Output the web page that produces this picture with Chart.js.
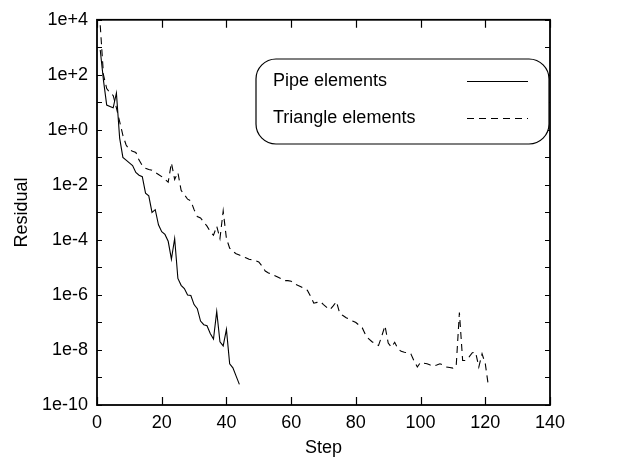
<!DOCTYPE html>
<html lang="en">
<head>
<meta charset="UTF-8" />
<title>Residual vs Step</title>
<script src="https://cdn.jsdelivr.net/npm/chart.js"></script>
<style>
  html, body { margin: 0; padding: 0; background: #fff; }
  #wrap { position: relative; width: 640px; height: 462px; }
</style>
</head>
<body>
<div id="wrap"><canvas id="myChart"></canvas></div>

<script>
// values, stored as log10(residual)
const pipeFirstStep = 1;
const pipeLog10 = [
    2.9, 1.8, 0.9, 0.85, 0.8, 1.34, -0.3, -1.0, -1.1, -1.2,
    -1.3, -1.55, -1.65, -1.7, -2.3, -2.4, -3.0, -2.9, -3.45, -3.7,
    -3.8, -4.05, -4.7, -3.95, -5.4, -5.65, -5.77, -6.0, -6.02, -6.35,
    -6.5, -6.95, -7.08, -7.12, -7.4, -7.6, -6.6, -7.7, -7.85, -7.25,
    -8.5, -8.65, -8.95, -9.25
];

const triFirstStep = 1;
const triLog10 = [
    3.8, 2.0, 1.5, 1.35, 1.25, 0.8, 0.3, -0.2, -0.55, -0.72,
    -0.78, -0.82, -1.1, -1.3, -1.4, -1.44, -1.47, -1.55, -1.62, -1.7,
    -1.8, -1.9, -1.2, -1.8, -1.55, -2.2, -2.35, -2.52, -2.58, -2.9,
    -3.15, -3.2, -3.35, -3.5, -3.7, -3.83, -3.5, -3.95, -2.95, -3.95,
    -4.3, -4.42, -4.5, -4.55, -4.6, -4.65, -4.7, -4.73, -4.76, -4.8,
    -4.95, -5.13, -5.2, -5.24, -5.3, -5.36, -5.42, -5.48, -5.48, -5.5,
    -5.6, -5.65, -5.7, -5.77, -5.83, -6.05, -6.3, -6.27, -6.24, -6.35,
    -6.45, -6.54, -6.4, -6.24, -6.66, -6.75, -6.83, -6.88, -6.95, -7.0,
    -7.1, -7.2, -7.45, -7.6, -7.7, -7.78, -7.84, -7.5, -7.12, -7.75,
    -7.9, -7.72, -7.95, -8.05, -8.08, -8.1, -8.14, -8.4, -8.62, -8.45,
    -8.48, -8.5, -8.55, -8.59, -8.55, -8.5, -8.55, -8.62, -8.64, -8.66,
    -8.6, -6.64, -8.38, -8.38, -8.25, -8.1, -8.08, -8.62, -8.14, -8.5,
    -9.34
];

const seriesNames = ['Pipe elements', 'Triangle elements'];

const xTicks = [0, 20, 40, 60, 80, 100, 120, 140];
const yTicks = [1e-10, 1e-8, 1e-6, 1e-4, 1e-2, 1e0, 1e2, 1e4];
const yTickLabels = ['1e-10', '1e-8', '1e-6', '1e-4', '1e-2', '1e+0', '1e+2', '1e+4'];

const FONT = '"Liberation Sans", Arial, Helvetica, sans-serif';

function toPoints(first, logs) {
    return logs.map((v, i) => ({ x: first + i, y: Math.pow(10, v) }));
}

// frame, inward ticks on all four sides and the rounded legend box
const gnuplotFrame = {
    id: 'gnuplotFrame',
    afterDatasetsDraw(chart) {
        const ctx = chart.ctx;
        const a = chart.chartArea;
        const sx = chart.scales.x, sy = chart.scales.y;
        ctx.save();
        ctx.strokeStyle = '#000';
        ctx.lineWidth = 1.8;
        ctx.strokeRect(a.left, a.top, a.right - a.left, a.bottom - a.top);

        ctx.lineWidth = 1.2;
        ctx.beginPath();
        xTicks.forEach(v => {
            const px = Math.round(sx.getPixelForValue(v)) + 0.5;
            ctx.moveTo(px, a.bottom); ctx.lineTo(px, a.bottom - 8);
            ctx.moveTo(px, a.top); ctx.lineTo(px, a.top + 8);
        });
        for (let e = -10; e <= 4; e++) {
            const py = Math.round(sy.getPixelForValue(Math.pow(10, e))) + 0.5;
            ctx.moveTo(a.left, py); ctx.lineTo(a.left + 5, py);
            ctx.moveTo(a.right, py); ctx.lineTo(a.right - 5, py);
        }
        ctx.stroke();

        // legend
        const bx = 256, by = 59, bw = 293, bh = 85;
        ctx.beginPath();
        ctx.roundRect(bx, by, bw, bh, 20);
        ctx.fillStyle = '#fff';
        ctx.fill();
        ctx.lineWidth = 1.2;
        ctx.stroke();

        ctx.font = '18px ' + FONT;
        ctx.fillStyle = '#000';
        ctx.textBaseline = 'middle';
        ctx.textAlign = 'left';
        const rows = [81, 118];
        chart.data.datasets.forEach((ds, i) => {
            ctx.fillText(ds.label, 273, rows[i]);
            ctx.beginPath();
            ctx.setLineDash(ds.borderDash || []);
            ctx.lineWidth = 1.1;
            ctx.moveTo(467, rows[i] + 0.5);
            ctx.lineTo(528, rows[i] + 0.5);
            ctx.stroke();
        });
        ctx.setLineDash([]);
        ctx.restore();
    }
};

const dados = {
    datasets: [{
        label: seriesNames[0],
        data: toPoints(pipeFirstStep, pipeLog10),
        borderColor: '#000',
        borderWidth: 1.1,
        pointRadius: 0,
        tension: 0,
        fill: false
    }, {
        label: seriesNames[1],
        data: toPoints(triFirstStep, triLog10),
        borderColor: '#000',
        borderWidth: 1.1,
        borderDash: [7, 5],
        pointRadius: 0,
        tension: 0,
        fill: false
    }]
};

const config = {
    type: 'line',
    data: dados,
    options: {
        responsive: false,
        animation: false,
        devicePixelRatio: 1,
        layout: { padding: { left: 7, top: 17, right: 90, bottom: 0 } },
        plugins: {
            legend: { display: false },
            tooltip: { enabled: false }
        },
        scales: {
            x: {
                type: 'linear',
                min: 0,
                max: 140,
                afterFit(scale) { scale.height = 57; },
                afterBuildTicks(scale) { scale.ticks = xTicks.map(v => ({ value: v })); },
                grid: { display: false, drawTicks: false },
                border: { display: false },
                ticks: {
                    padding: 7,
                    color: '#000',
                    font: { family: FONT, size: 18 },
                    maxRotation: 0
                },
                title: {
                    display: true,
                    text: 'Step',
                    color: '#000',
                    font: { family: FONT, size: 18 },
                    padding: { top: 0, bottom: 3 }
                }
            },
            y: {
                type: 'logarithmic',
                min: 1e-10,
                max: 1e4,
                afterFit(scale) { scale.width = 90; },
                afterBuildTicks(scale) { scale.ticks = yTicks.map(v => ({ value: v })); },
                grid: { display: false, drawTicks: false },
                border: { display: false },
                ticks: {
                    padding: 9,
                    color: '#000',
                    font: { family: FONT, size: 18 },
                    callback: function (value) {
                        const i = yTicks.findIndex(t => Math.abs(Math.log10(t) - Math.log10(value)) < 1e-6);
                        return i >= 0 ? yTickLabels[i] : '';
                    }
                },
                title: {
                    display: true,
                    text: 'Residual',
                    color: '#000',
                    font: { family: FONT, size: 18 },
                    padding: { top: 4, bottom: 0 }
                }
            }
        }
    },
    plugins: [gnuplotFrame]
};

const canvas = document.getElementById('myChart');
canvas.width = 640;
canvas.height = 462;
let myChart = new Chart(canvas, config);
</script>
</body>
</html>
